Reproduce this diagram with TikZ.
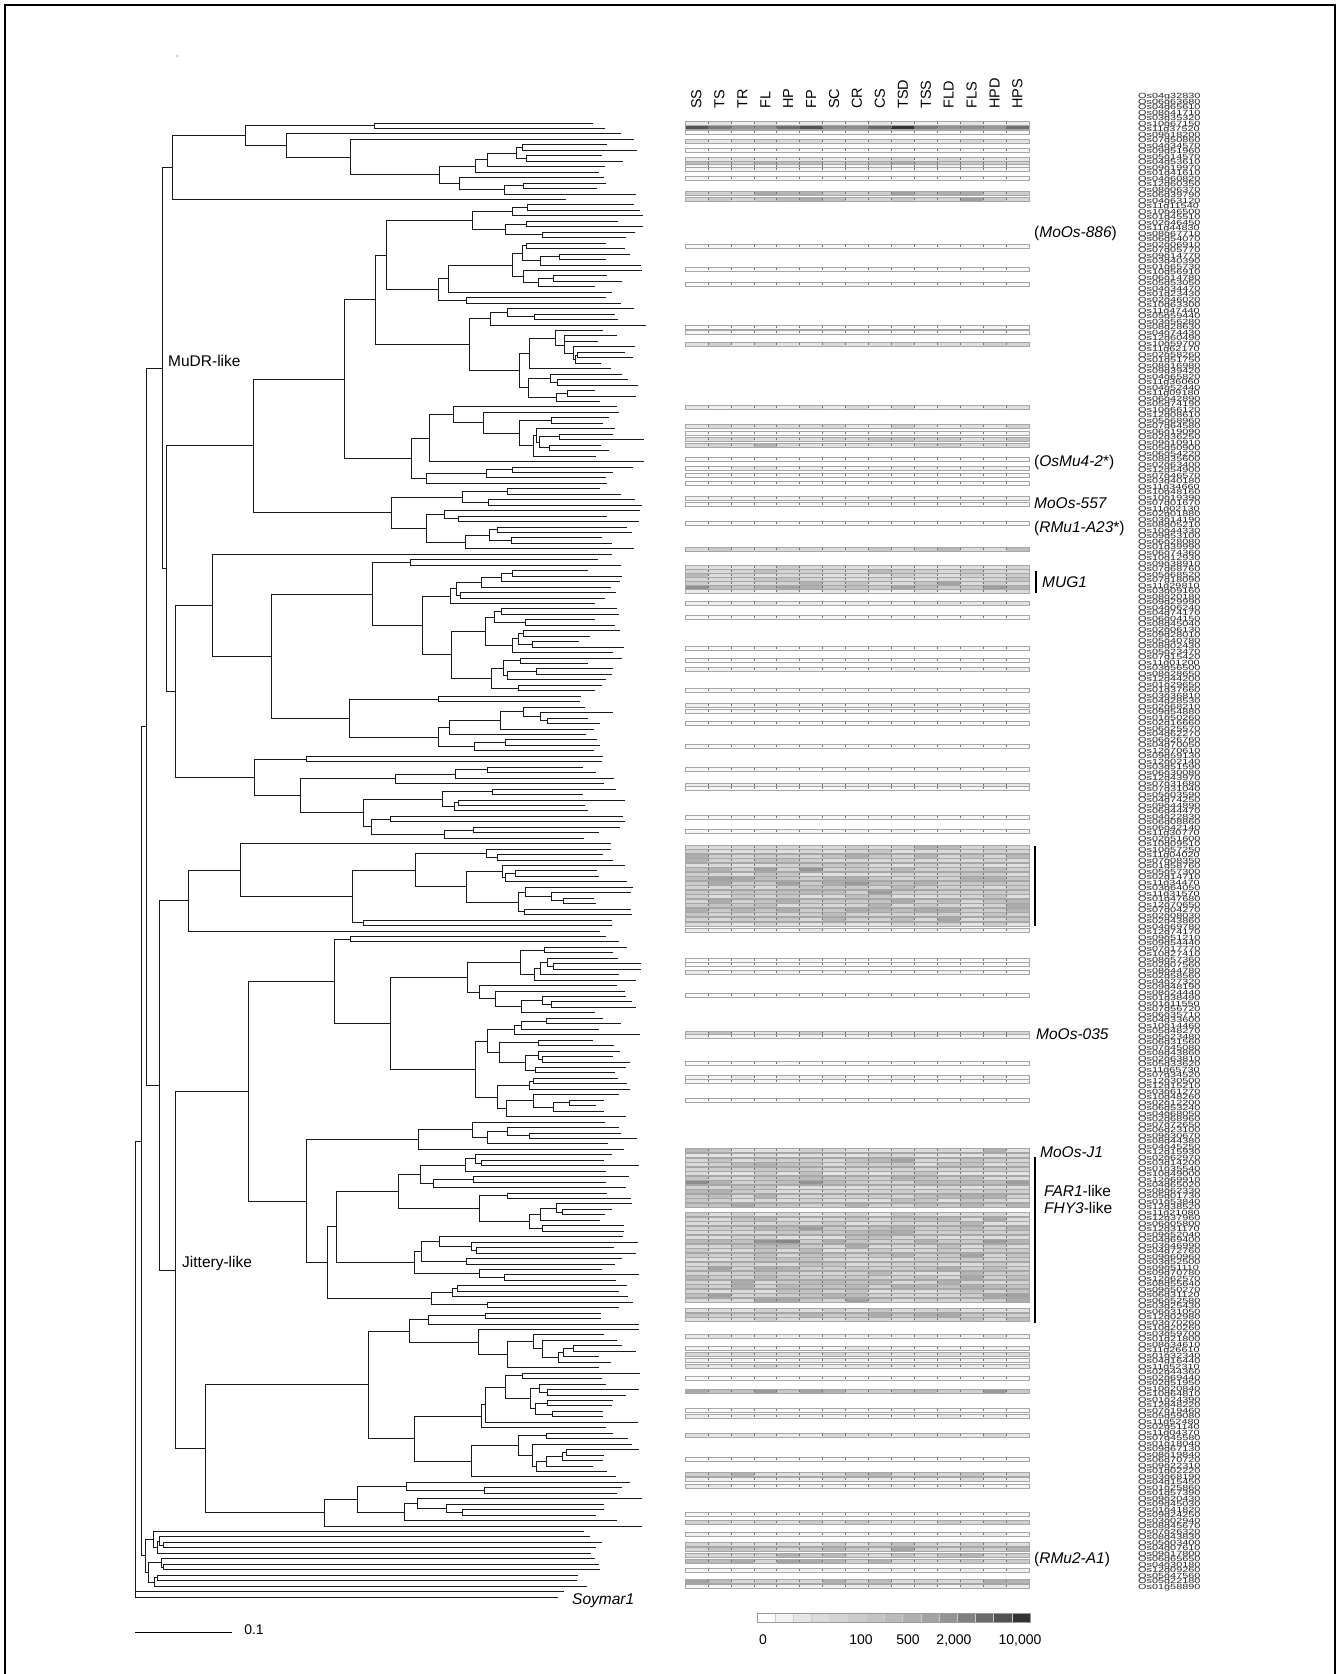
\documentclass[tikz,border=0pt]{standalone}
\usepackage{fontspec}
\usepackage{graphicx}
\setmainfont{Liberation Sans}
\def\tipb{585}\def\tipv{50}\def\fmin{0.03}\def\fmax{0.45}
\newcommand\mkcl[4]{%
\begingroup
 \pgfmathtruncatemacro\na{min(#4-1,1+floor(rnd*(#4-1)))}%
 \pgfmathtruncatemacro\nb{#4-\na}%
 \pgfmathtruncatemacro\sb{#3+\na}%
 \edef\next{\noexpand\mksub{#2}{#3}{\na}}\next\let\ya\cy
 \edef\next{\noexpand\mksub{#2}{\sb}{\nb}}\next\let\yb\cy
 \pgfmathsetmacro\ym{(\ya+\yb)/2}%
 \draw[br] (#2,\ya)--(#2,\yb) (#1,\ym)--(#2,\ym);
 \xdef\cy{\ym}%
\endgroup}
\newcommand\mksub[3]{%
\begingroup
\ifnum#3=1\relax
  \pgfmathsetmacro\ly{123+#2*5.459}%
  \pgfmathsetmacro\lx{max(#1+3,\tipb+rnd*\tipv)}%
  \draw[br] (#1,\ly)--(\lx,\ly);
  \xdef\cy{\ly}%
\else
  \pgfmathsetmacro\nx{#1+(\fmin+rnd*(\fmax-\fmin))*max(\tipb-#1,6)}%
  \edef\next{\noexpand\mkcl{#1}{\nx}{#2}{#3}}\next
\fi
\endgroup}
\newcommand\mkjn[4]{%
\begingroup
 #3\let\ya\cy
 #4\let\yb\cy
 \pgfmathsetmacro\ym{(\ya+\yb)/2}%
 \draw[br] (#2,\ya)--(#2,\yb) (#1,\ym)--(#2,\ym);
 \xdef\cy{\ym}%
\endgroup}
\begin{document}
\begin{tikzpicture}[x=1pt,y=-1pt,
  br/.style={line width=0.85pt, black!90, line cap=rect},
  hdr/.style={font=\fontsize{14.5}{15}\selectfont, inner sep=0pt},
  lbl/.style={font=\fontsize{15.5}{17}\selectfont, inner sep=0pt, anchor=west},
  leg/.style={font=\fontsize{14}{15}\selectfont, inner sep=0pt},
  gid/.style={font=\fontsize{7.5}{7.5}\selectfont, inner sep=0pt, anchor=west, text=black!85},
  bar/.style={line width=2.3pt, black}]
\useasboundingbox (0,0) rectangle (1337,1674);
% frame
\draw[line width=1.4pt] (5,1680)--(5,5)--(1335,5)--(1335,1680);
\fill[black!40] (177,56) circle (0.8);
% ---------------- tree ----------------
\pgfmathsetseed{2024}
\mkjn{135}{135}{%
  \mkjn{135}{141}{%
    \mkjn{141}{146}{%
      \mkjn{146}{162}{%
        \mkjn{162}{172}{\def\tipb{592}\def\tipv{45}\mkcl{172}{245}{0}{14}}{\def\tipb{565}\def\tipv{1}\mksub{172}{14}{1}}%
      }{%
        \mkjn{162}{166}{\def\tipb{592}\def\tipv{60}\mkcl{166}{253}{15}{64}}{\def\tipb{575}\def\tipv{50}\mkcl{166}{175}{79}{53}}%
      }%
    }{%
      \def\tipb{592}\def\tipv{50}%
      \mkjn{146}{159}{\mkcl{159}{188}{132}{17}}{\mkjn{159}{175}{\mkcl{175}{248}{149}{69}}{\mkcl{175}{205}{218}{40}}}%
    }%
  }{%
    \def\tipb{572}\def\tipv{30}\def\fmax{0.03}\def\fmin{0.005}\mkcl{141}{145}{258}{11}%
  }%
}{%
  \def\tipb{557}\def\tipv{8}\mkjn{135}{135}{\mksub{135}{269}{1}}{\def\tipv{0.5}\mksub{135}{270}{1}}%
}
\node[lbl] (mudr) at (168,361) {MuDR-like};
\node[lbl] (jitt) at (182,1263) {Jittery-like};
\node[lbl] (soy) at (572,1601) {\textit{Soymar1}};
% ---------------- header ----------------
\foreach \lab [count=\i from 0] in {SS,TS,TR,FL,HP,FP,SC,CR,CS,TSD,TSS,FLD,FLS,HPD,HPS}
  \node[hdr, rotate=90, anchor=west] (h\i) at ({685+22.93*(\i+0.5)},109) {\lab};
% ---------------- heatmap rows ----------------
\pgfmathsetseed{77}
\foreach \ry/\lv in {123/15,127/100,132/5,141/22,150/5,159/20,163/45,166/8,169/8,178/5,193/45,199/40,
 246/5,269/5,284/5,327/5,332/5,344/25,407/15,426/20,433/5,439/30,445/30,459/5,468/10,475/5,483/5,498/10,504/5,523/5,549/30,
 567/25,571/35,575/30,579/30,583/35,587/55,591/15,603/15,617/5,648/5,660/5,669/10,690/5,705/10,711/5,723/5,746/5,769/5,785/15,788/5,817/5,831/5,
 847/35,851/30,856/40,860/35,865/30,869/45,874/30,878/40,883/50,887/35,892/45,896/30,901/40,905/35,910/50,914/40,919/35,924/25,
 930/10,960/5,964/5,972/10,995/5,1033/25,1036/10,1063/5,1077/10,1081/5,1100/5,
 1150/30,1155/25,1160/35,1164/30,1169/40,1173/25,1178/35,1182/45,1187/30,1191/35,1196/40,1200/30,1205/45,1214/25,1219/35,1223/30,1228/40,1232/35,1237/30,1241/45,1246/35,1250/30,1255/40,1259/30,1264/35,1268/45,1273/30,1277/40,1282/35,1286/45,1291/30,1295/40,1300/35,1310/30,1315/45,1319/30,
 1336/15,1348/10,1354/25,1360/10,1366/20,1378/5,1391/45,1410/5,1416/10,1435/20,1459/5,1474/30,1479/15,1486/10,1514/5,1522/25,1534/10,1544/30,1549/40,1555/35,1561/40,1570/10,1581/35,1586/10}{
  \foreach \c in {0,...,14}{
    \pgfmathtruncatemacro\p{min(80,\lv*(0.4+0.7*rnd*rnd))}
    \fill[black!\p] ({685+\c*22.93},\ry-1.8) rectangle ++(22.93,3.6);
  }
  \draw[gray!70, line width=0.5pt] (685,\ry-1.8) rectangle (1029,\ry+1.8);
  \foreach \c in {1,...,14}
    \draw[black!55, line width=0.5pt] ({685+\c*22.93},\ry-1.3)--++(0,2.6);
}
% ---------------- right labels ----------------
\node[lbl] (l886) at (1034,233) {(\textit{MoOs-886})};
\node[lbl] (lmu4) at (1034,462) {(\textit{OsMu4-2}*)};
\node[lbl] (l557) at (1034,503) {\textit{MoOs-557}};
\node[lbl] (la23) at (1034,528) {(\textit{RMu1-A23}*)};
\node[lbl] (lmug) at (1042,582) {\textit{MUG1}};
\node[lbl] (l035) at (1036,1034) {\textit{MoOs-035}};
\node[lbl] (lj1) at (1040,1152) {\textit{MoOs-J1}};
\node[lbl] (lfar) at (1044,1191) {\textit{FAR1}-like};
\node[lbl] (lfhy) at (1044,1208) {\textit{FHY3}-like};
\node[lbl] (la1) at (1034,1559) {(\textit{RMu2-A1})};
\coordinate (b1a) at (1036,571); \coordinate (b1b) at (1036,593);
\coordinate (b2a) at (1035,846); \coordinate (b2b) at (1035,926);
\coordinate (b3a) at (1035,1157); \coordinate (b3b) at (1035,1323);
\draw[bar] (b1a)--(b1b);
\draw[bar] (b2a)--(b2b);
\draw[bar] (b3a)--(b3b);
% ---------------- gene ids ----------------
\pgfmathsetseed{31}
\foreach \i in {0,...,271}{
  \pgfmathrandominteger\ch{1}{12}
  \pgfmathrandominteger\nn{101}{7499}
  \node[gid] (g\i) at (1138,{97+\i*5.5}) {\scalebox{1.45}[1]{Os\ifnum\ch<10 0\fi\ch g\ifnum\nn<1000 0\fi\nn 0}};
}
% ---------------- legend ----------------
\foreach \p [count=\i from 0] in {0,5,10,14,17,20,23,27,31,36,42,50,58,68,80}
  \fill[black!\p] ({757+\i*18.2},1613) rectangle ++(18.2,9);
\foreach \i in {1,...,14} \draw[gray!40, line width=0.4pt] ({757+\i*18.2},1613)--++(0,9);
\draw[gray!80, line width=0.6pt] (757,1613) rectangle (1030,1622);
\node[leg] (k0) at (763,1640) {0};
\node[leg] (k1) at (861,1640) {100};
\node[leg] (k2) at (908,1640) {500};
\node[leg] (k3) at (954,1640) {2,000};
\node[leg] (k4) at (1020,1640) {10,000};
% ---------------- scale bar ----------------
\coordinate (sa) at (135,1632); \coordinate (sb) at (232,1632);
\draw[line width=0.9pt] (sa)--(sb);
\node[leg] (sc) at (254,1630) {0.1};
\end{tikzpicture}
\end{document}
